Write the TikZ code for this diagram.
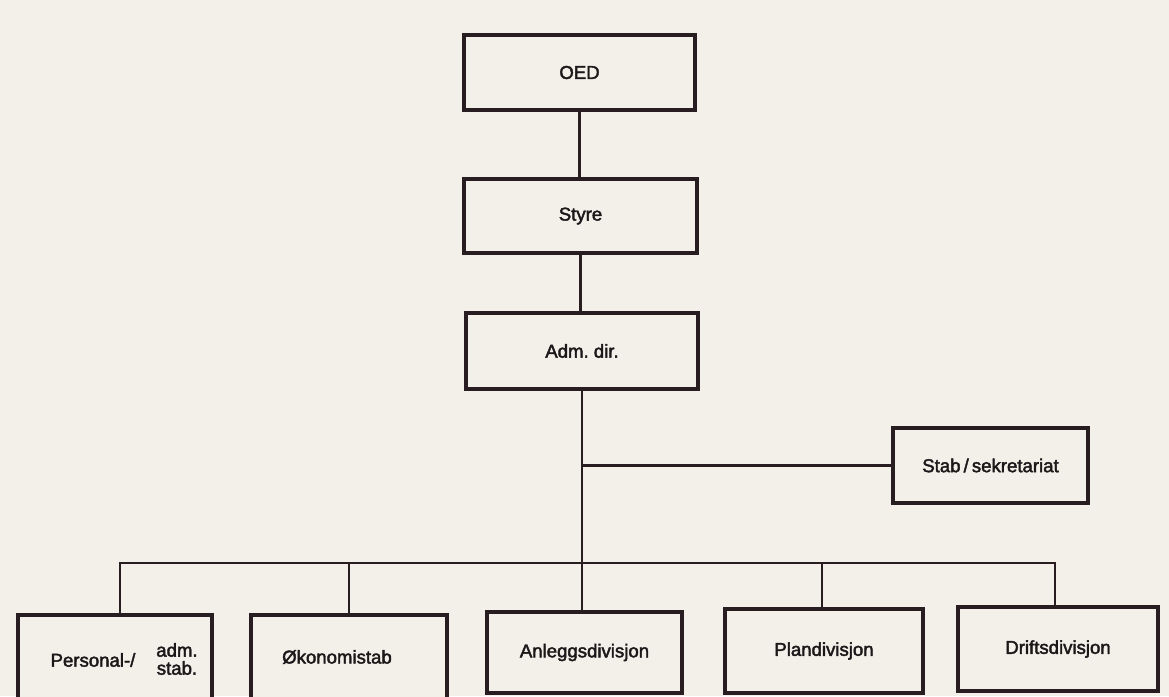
\documentclass[tikz,border=0pt]{standalone}
\usepackage{fontspec}
\setmainfont{Liberation Sans}[FakeBold=2.2]
\begin{document}
\definecolor{paper}{RGB}{243,239,233}
\definecolor{ink}{RGB}{40,30,34}
\definecolor{type}{RGB}{28,24,26}
\begin{tikzpicture}[x=1pt,y=-1pt,
  box/.style={draw=ink, line width=3.2pt, fill=paper, inner sep=0pt,
              font=\fontsize{18.6}{20}\selectfont, text=type},
  lbl/.style={font=\fontsize{18.6}{20}\selectfont, text=type, inner sep=0pt},
  link/.style={draw=ink, line width=2.7pt}]
  \fill[paper] (0,0) rectangle (1169,696);
  \useasboundingbox (0,0) rectangle (1169,696);
  \clip (0,0) rectangle (1169,696);

  % management chain
  \node[box, minimum width=231, minimum height=75] (oed)   at (579.5,72.5) {OED};
  \node[box, minimum width=233, minimum height=74] (styre) at (580.5,216)  {Styre};
  \node[box, minimum width=232, minimum height=76] (adm)   at (582,351)    {Adm.\ dir.};
  \node[box, minimum width=195, minimum height=75] (stab)  at (990.5,465.5) {Stab\,/\,sekretariat};

  % staff units and divisions
  \node[box, minimum width=194, minimum height=92] (personal) at (115,661) {};
  \node[lbl] (personaltxt) at (93,660) {Personal-/};
  \node[lbl, align=center] (admstab) at (177,659) {adm.\\[-2pt]stab.};
  \node[box, minimum width=196, minimum height=92] (okonomi) at (349,661) {};
  \node[lbl] (okonomitxt) at (337,657) {Økonomistab};
  \node[box, minimum width=195, minimum height=81] (anlegg) at (584.5,652.5) {Anleggsdivisjon};
  \node[box, minimum width=198, minimum height=84] (plan)   at (824,651)   {Plandivisjon};
  \node[box, minimum width=200, minimum height=84] (drift)  at (1058,649)  {Driftsdivisjon};

  \coordinate (bus) at (0,563);

  % connectors
  \draw[link] (oed.south) -- (oed.south |- styre.north);
  \draw[link] (styre.south) -- (styre.south |- adm.north);
  \draw[link] (adm.south) -- (adm.south |- anlegg.north);
  \draw[link] (adm.south |- stab.west) -- (stab.west);
  \draw[link] ([xshift=5pt]personal.north) |- ([xshift=-3pt]drift.north |- bus) -- ([xshift=-3pt]drift.north);
  \draw[link] (okonomi.north) -- (okonomi.north |- bus);
  \draw[link] ([xshift=-2pt]plan.north) -- ([xshift=-2pt]plan.north |- bus);
\end{tikzpicture}
\end{document}
